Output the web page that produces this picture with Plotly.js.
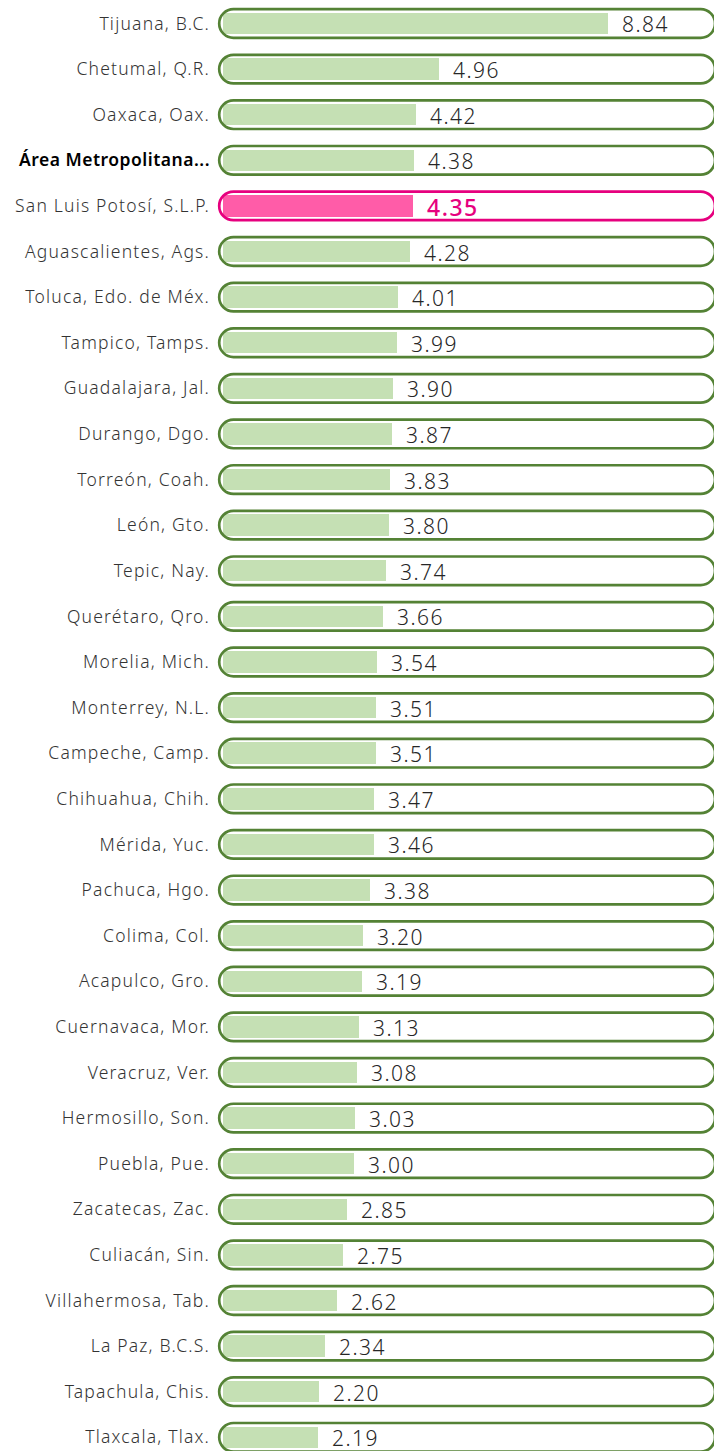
<!DOCTYPE html>
<html>
<head>
<meta charset="utf-8">
<script src="https://cdn.plot.ly/plotly-3.0.1.min.js"></script>
<style>
  html, body { margin: 0; padding: 0; background: #ffffff; }
  #chart { width: 714px; height: 1451px; }
  #chart .ytick text { letter-spacing: 1.2px; }
  #chart .annotation-text { letter-spacing: 1.5px; }
</style>
</head>
<body>
<div id="chart"></div>
<script>
// ---- Data ----
const cities = [
  "Tijuana, B.C.", "Chetumal, Q.R.", "Oaxaca, Oax.", "Área Metropolitana...",
  "San Luis Potosí, S.L.P.", "Aguascalientes, Ags.", "Toluca, Edo. de Méx.",
  "Tampico, Tamps.", "Guadalajara, Jal.", "Durango, Dgo.", "Torreón, Coah.",
  "León, Gto.", "Tepic, Nay.", "Querétaro, Qro.", "Morelia, Mich.",
  "Monterrey, N.L.", "Campeche, Camp.", "Chihuahua, Chih.", "Mérida, Yuc.",
  "Pachuca, Hgo.", "Colima, Col.", "Acapulco, Gro.", "Cuernavaca, Mor.",
  "Veracruz, Ver.", "Hermosillo, Son.", "Puebla, Pue.", "Zacatecas, Zac.",
  "Culiacán, Sin.", "Villahermosa, Tab.", "La Paz, B.C.S.", "Tapachula, Chis.",
  "Tlaxcala, Tlax."
];
const values = [
  8.84, 4.96, 4.42, 4.38, 4.35, 4.28, 4.01, 3.99, 3.90, 3.87, 3.83,
  3.80, 3.74, 3.66, 3.54, 3.51, 3.51, 3.47, 3.46, 3.38, 3.20, 3.19,
  3.13, 3.08, 3.03, 3.00, 2.85, 2.75, 2.62, 2.34, 2.20, 2.19
];
const highlightCity = "San Luis Potosí, S.L.P.";
const boldCity = "Área Metropolitana...";

// ---- Styles ----
const GREEN_LINE = "#548235";
const GREEN_FILL = "#c5e0b4";
const PINK_LINE = "#e6007e";
const PINK_FILL = "#ff5ca8";
const LABEL_FONT = "'Noto Sans', 'Open Sans', sans-serif";
const VALUE_FONT = "'Noto Sans', 'Open Sans', sans-serif";

const idx = cities.map((_, i) => i);
const isHi = cities.map(c => c === highlightCity);

const barTrace = {
  type: "bar",
  orientation: "h",
  x: values,
  y: idx,
  width: 0.47,
  marker: { color: isHi.map(h => h ? PINK_FILL : GREEN_FILL), line: { width: 0 } },
  hoverinfo: "skip",
  showlegend: false
};

// pill outlines (pixel geometry anchored on the data zero and each category)
function pillPath(L, R, r) {
  const k = 0.5523 * r;
  return `M ${L + r} ${-r} L ${R - r} ${-r} ` +
    `C ${R - r + k} ${-r} ${R} ${-k} ${R} 0 ` +
    `C ${R} ${k} ${R - r + k} ${r} ${R - r} ${r} ` +
    `L ${L + r} ${r} ` +
    `C ${L + r - k} ${r} ${L} ${k} ${L} 0 ` +
    `C ${L} ${-k} ${L + r - k} ${-r} ${L + r} ${-r} Z`;
}
const pill = pillPath(-3.8, 492, 14.3);
const shapes = idx.map(i => ({
  type: "path",
  layer: "above",
  xref: "x", yref: "y",
  xsizemode: "pixel", ysizemode: "pixel",
  xanchor: 0, yanchor: i,
  path: pill,
  fillcolor: "rgba(0,0,0,0)",
  line: { color: isHi[i] ? PINK_LINE : GREEN_LINE, width: 2.7 }
}));

const annotations = idx.map(i => ({
  x: values[i], y: i, xref: "x", yref: "y",
  text: values[i].toFixed(2),
  showarrow: false,
  xanchor: "left", yanchor: "middle",
  xshift: 17, yshift: -1,
  borderpad: 0, borderwidth: 0,
  font: isHi[i]
    ? { family: VALUE_FONT, size: 23, color: PINK_LINE, weight: 500 }
    : { family: VALUE_FONT, size: 21, color: "#262626", weight: 300 }
}));

const tickText = cities.map(c => c === boldCity
  ? `<span style="color:#000000;font-weight:600;letter-spacing:0.5px">${c}</span>` : c);

const layout = {
  width: 714, height: 1451,
  margin: { l: 214, r: 0, t: 0, b: 0, pad: 0 },
  paper_bgcolor: "#ffffff", plot_bgcolor: "#ffffff",
  showlegend: false,
  bargap: 0,
  xaxis: {
    range: [-0.2064, 11.261], autorange: false,
    showgrid: false, zeroline: false, showticklabels: false, showline: false, fixedrange: true
  },
  yaxis: {
    type: "linear",
    range: [31.3, -0.515], autorange: false,
    tickmode: "array", tickvals: idx, ticktext: tickText,
    ticks: "", showgrid: false, zeroline: false, showline: false,
    tickfont: { family: LABEL_FONT, size: 17.5, color: "#333333", weight: 300 },
    ticklabelstandoff: 3, fixedrange: true
  },
  shapes: shapes,
  annotations: annotations,
  font: { family: LABEL_FONT }
};

Plotly.newPlot("chart", [barTrace], layout, { displayModeBar: false, staticPlot: true });
</script>
</body>
</html>
